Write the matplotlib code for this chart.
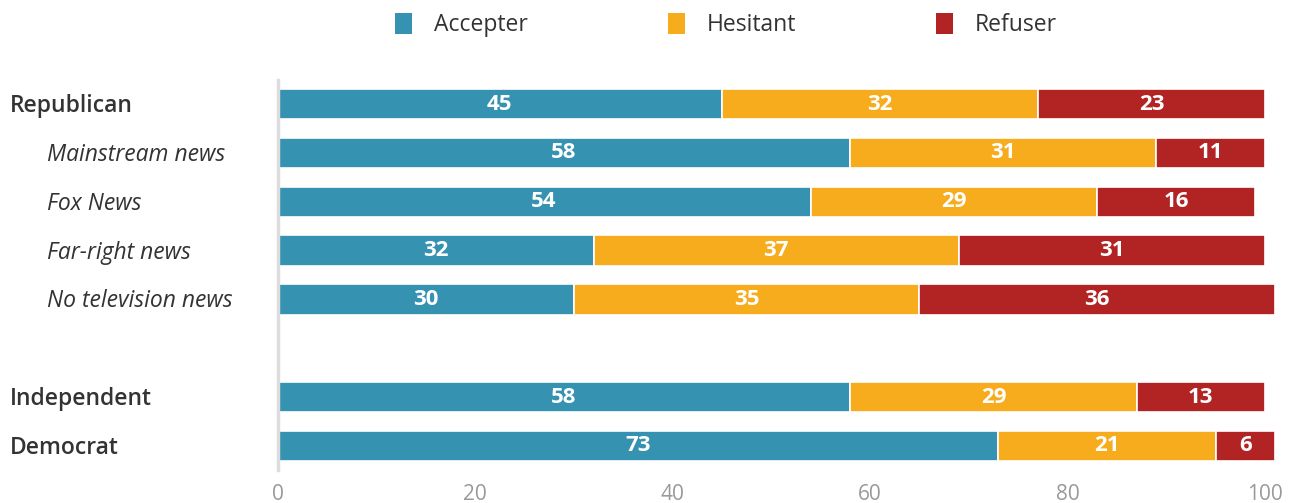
import matplotlib
matplotlib.use("Agg")
import matplotlib.pyplot as plt
from matplotlib.patches import Patch

categories = ["Republican", "Mainstream news", "Fox News", "Far-right news",
              "No television news", "Independent", "Democrat"]
is_sub = [False, True, True, True, True, False, False]
positions = [0, 1, 2, 3, 4, 6, 7]

accepter = [45, 58, 54, 32, 30, 58, 73]
hesitant = [32, 31, 29, 37, 35, 29, 22]
refuser = [23, 11, 16, 31, 36, 13, 6]

accepter_labels = ["45", "58", "54", "32", "30", "58", "73"]
hesitant_labels = ["32", "31", "29", "37", "35", "29", "21"]
refuser_labels = ["23", "11", "16", "31", "36", "13", "6"]

series_names = ["Accepter", "Hesitant", "Refuser"]
colors = ["#3592B0", "#F6AC1D", "#B22323"]
xticks = [0, 20, 40, 60, 80, 100]

plt.rcParams['font.family'] = ['Open Sans', 'DejaVu Sans']

W, H = 1293, 503
fig = plt.figure(figsize=(W / 100, H / 100), dpi=100)
left_px, right_px = 277.5, 1265
top_px, bot_px = 79.6, 470.4
ax = fig.add_axes([left_px / W, 1 - bot_px / H, (right_px - left_px) / W, (bot_px - top_px) / H])

series = [accepter, hesitant, refuser]
labels = [accepter_labels, hesitant_labels, refuser_labels]
lefts = [0] * len(categories)
for vals, labs, col in zip(series, labels, colors):
    ax.barh(positions, vals, left=lefts, height=0.62, color=col,
            edgecolor="white", linewidth=1.2, clip_on=False)
    for p, l, v, t in zip(positions, lefts, vals, labs):
        ax.text(l + v / 2, p, t, ha="center", va="center", color="white",
                fontsize=16, fontweight="bold")
    lefts = [a + b for a, b in zip(lefts, vals)]

ax.set_xlim(0, 100)
ax.set_ylim(7.5, -0.5)
for s in ["top", "right", "bottom"]:
    ax.spines[s].set_visible(False)
ax.spines["left"].set_color("#dddddd")
ax.spines["left"].set_linewidth(2.5)
ax.set_yticks([])
ax.set_xticks(xticks)
ax.set_xticklabels([str(x) for x in xticks])
ax.tick_params(axis="x", length=0, labelsize=15, labelcolor="#999999", pad=10)

for cat, p, sub in zip(categories, positions, is_sub):
    y = (ax.transData.transform((0, p))[1] - 2) / H
    if sub:
        fig.text(47 / W, y, cat, ha="left", va="center", fontsize=16.5,
                 style="italic", color="#333333")
    else:
        fig.text(10 / W, y, cat, ha="left", va="center", fontsize=16.5,
                 fontweight="semibold", color="#333333")

handles = [Patch(facecolor=c, edgecolor="none") for c in colors]
fig.legend(handles, series_names, loc="upper center", bbox_to_anchor=(726 / W, 1.015),
           ncol=3, frameon=False, fontsize=16.5, handlelength=0.75, handleheight=1.0,
           handletextpad=0.95, columnspacing=6.1, labelcolor="#333333")

fig.savefig("out.png", dpi=100)
